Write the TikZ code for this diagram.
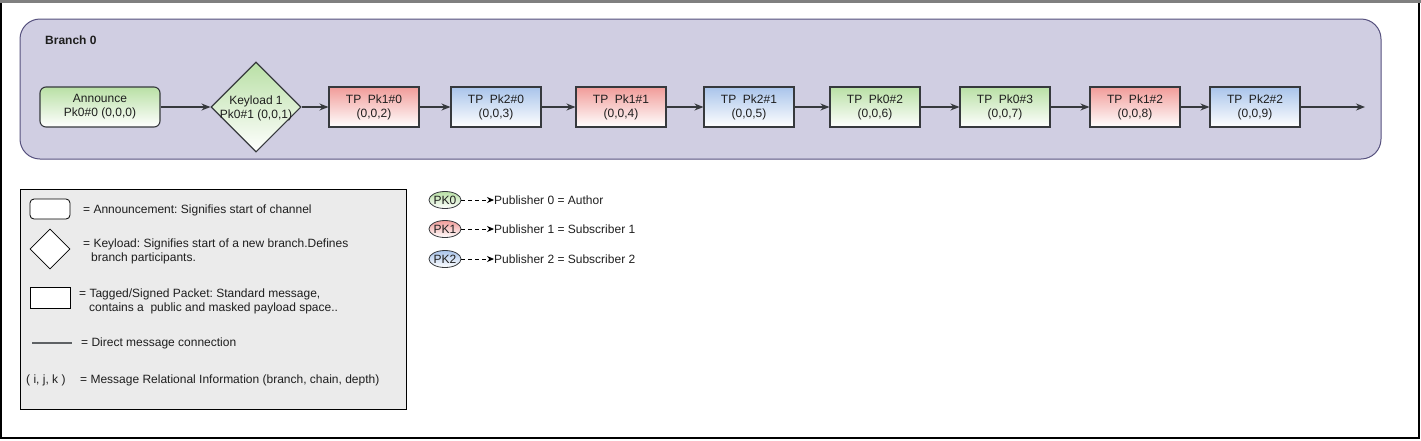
\documentclass[tikz,border=0pt]{standalone}
\usepackage{fontspec}
\setmainfont{Liberation Sans}
\frenchspacing
\usetikzlibrary{shapes.geometric,arrows.meta}
\definecolor{edgec}{RGB}{54,57,61}
\definecolor{textc}{RGB}{30,30,30}
\definecolor{grn}{RGB}{185,224,165}
\definecolor{red}{RGB}{241,156,153}
\definecolor{blu}{RGB}{169,196,235}
\definecolor{lav}{RGB}{208,206,226}
\definecolor{lavedge}{RGB}{86,81,126}
\definecolor{leggray}{RGB}{235,235,235}
\begin{document}
\begin{tikzpicture}[x=1pt,y=-1pt,
  every node/.style={font=\fontsize{12}{14}\selectfont, text=textc},
  box/.style={draw=edgec, line width=1.1pt, align=center, inner sep=0pt},
  annbox/.style={box, rounded corners=6pt, minimum width=120pt, minimum height=40pt, top color=grn, bottom color=white},
  keydiam/.style={box, diamond, minimum width=90pt, minimum height=90pt, top color=grn, bottom color=white},
  pkt/.style={box, minimum width=90pt, minimum height=40pt},
  gpkt/.style={pkt, top color=grn, bottom color=white},
  rpkt/.style={pkt, top color=red, bottom color=white},
  bpkt/.style={pkt, top color=blu, bottom color=white},
  conn/.style={draw=edgec, line width=1.2pt, -{Stealth[length=9pt,width=7pt]}},
  legshape/.style={draw=black, fill=white, line width=0.8pt, inner sep=0pt},
  legtext/.style={anchor=west, inner sep=0pt, align=left},
  pkell/.style={draw=edgec, ellipse, line width=0.8pt, minimum width=30pt, minimum height=17pt, inner sep=0pt},
  dasharr/.style={draw=black, line width=0.8pt, dash pattern=on 4pt off 3pt, -{Stealth[length=7pt,width=6pt]}}
]
\useasboundingbox (0,0) rectangle (1421,440);
% outer frame
\draw[black, line width=1.5pt] (1,1) rectangle (1419,438);
\draw[gray, line width=3pt] (0,1) -- (1421,1);

% branch container
\draw[draw=lavedge, fill=lav, line width=1pt, rounded corners=20pt] (20,19) rectangle (1381,159);
\node[anchor=west, inner sep=0pt, font=\bfseries\fontsize{12}{14}\selectfont] (br) at (45,40) {Branch 0};

% nodes
\node[annbox] (ann) at (100,107) {Announce\\Pk0\#0 (0,0,0)};
\node[keydiam] (k1) at (256,107) {};
\node[align=center, inner sep=0pt] (k1t) at (256,108) {Keyload 1\\Pk0\#1 (0,0,1)};
\node[rpkt] (p2) at (374,107) {TP~~Pk1\#0\\(0,0,2)};
\node[bpkt] (p3) at (496,107) {TP~~Pk2\#0\\(0,0,3)};
\node[rpkt] (p4) at (621,107) {TP~~Pk1\#1\\(0,0,4)};
\node[bpkt] (p5) at (749,107) {TP~~Pk2\#1\\(0,0,5)};
\node[gpkt] (p6) at (875,107) {TP~~Pk0\#2\\(0,0,6)};
\node[gpkt] (p7) at (1005,107) {TP~~Pk0\#3\\(0,0,7)};
\node[rpkt] (p8) at (1135,107) {TP~~Pk1\#2\\(0,0,8)};
\node[bpkt] (p9) at (1255,107) {TP~~Pk2\#2\\(0,0,9)};
\coordinate (endc) at (1365,107);

\draw[conn] (ann) -- (k1.west);
\draw[conn] (k1.east) -- (p2);
\draw[conn] (p2) -- (p3);
\draw[conn] (p3) -- (p4);
\draw[conn] (p4) -- (p5);
\draw[conn] (p5) -- (p6);
\draw[conn] (p6) -- (p7);
\draw[conn] (p7) -- (p8);
\draw[conn] (p8) -- (p9);
\draw[conn] (p9) -- (endc);

% legend box
\draw[draw=black, fill=leggray, line width=0.8pt] (20,189) rectangle (406,409);
\node[legshape, rounded corners=4pt, minimum width=40pt, minimum height=20pt] (la) at (50,209) {};
\node[legtext] (lat) at (83,210) {= Announcement: Signifies start of channel};
\node[legshape, diamond, minimum width=40pt, minimum height=40pt] (ld) at (50,249) {};
\node[legtext] (ldt) at (83,251) {= Keyload: Signifies start of a new branch.Defines\\\hspace*{8pt}branch participants.};
\node[legshape, minimum width=40pt, minimum height=21pt] (lr) at (50,298) {};
\node[legtext] (lrt) at (79,301) {= Tagged/Signed Packet: Standard message,\\\hspace*{10pt}contains a~~public and masked payload space..};
\coordinate (ll1) at (32,343);
\coordinate (ll2) at (72,343);
\draw[draw=edgec!80, line width=1.5pt] (ll1) -- (ll2);
\node[legtext] (llt) at (81,343) {= Direct message connection};
\node[legtext] (lit) at (26,380) {( i, j, k )};
\node[legtext] (lmt) at (80,380) {= Message Relational Information (branch, chain, depth)};

% publisher legend
\node[pkell, top color=grn, bottom color=white] (e0) at (445,200) {PK0};
\node[pkell, top color=red, bottom color=white] (e1) at (445,229) {PK1};
\node[pkell, top color=blu, bottom color=white] (e2) at (445,259) {PK2};
\node[legtext] (t0) at (494,200) {Publisher 0 = Author};
\node[legtext] (t1) at (494,229) {Publisher 1 = Subscriber 1};
\node[legtext] (t2) at (494,259) {Publisher 2 = Subscriber 2};
\draw[dasharr] (e0) -- (t0.west);
\draw[dasharr] (e1) -- (t1.west);
\draw[dasharr] (e2) -- (t2.west);
\end{tikzpicture}
\end{document}
